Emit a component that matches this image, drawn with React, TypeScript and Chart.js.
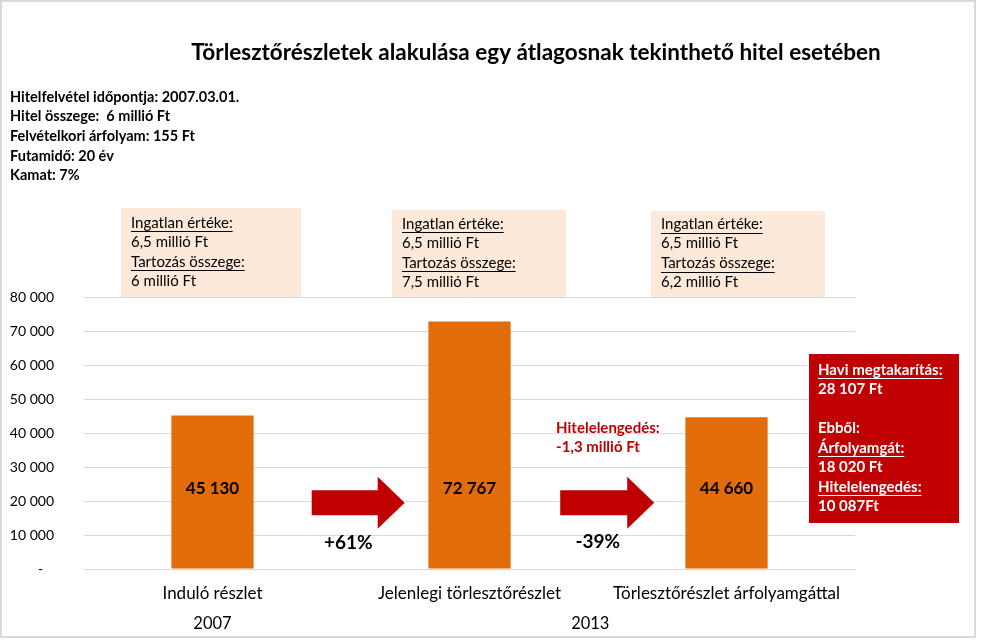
import React, { useEffect, useRef } from "react";
import { Chart, registerables } from "chart.js";

Chart.register(...registerables);

const chartTitle = "Törlesztőrészletek alakulása egy átlagosnak tekinthető hitel esetében";
const categories = ["Induló részlet", "Jelenlegi törlesztőrészlet", "Törlesztőrészlet árfolyamgáttal"];
const values = [45130, 72767, 44660];
const valueLabels = ["45 130", "72 767", "44 660"];
const yearLabels = ["2007", "2013"];
const yearPositions = [0, 1.47];
const yMin = 0;
const yMax = 80000;
const yStep = 10000;
const infoLines = [
  "Hitelfelvétel időpontja: 2007.03.01.",
  "Hitel összege:  6 millió Ft",
  "Felvételkori árfolyam: 155 Ft",
  "Futamidő: 20 év",
  "Kamat: 7%",
];
const boxHeading1 = "Ingatlan értéke:";
const boxHeading2 = "Tartozás összege:";
const propertyValues = ["6,5 millió Ft", "6,5 millió Ft", "6,5 millió Ft"];
const debtValues = ["6 millió Ft", "7,5 millió Ft", "6,2 millió Ft"];
const changeLabels = ["+61%", "-39%"];
const writeOffLines = ["Hitelelengedés:", "-1,3 millió Ft"];
const savingsLines: [string, boolean][] = [
  ["Havi megtakarítás:", true],
  ["28 107 Ft", false],
  ["", false],
  ["Ebből:", false],
  ["Árfolyamgát:", true],
  ["18 020 Ft", false],
  ["Hitelelengedés:", true],
  ["10 087Ft", false],
];

const FONT = "Lato, 'Open Sans', sans-serif";
const ORANGE = "#E36C0A";
const RED = "#C00000";
const PEACH = "#FDE9D9";
const GRID = "#D9D9D9";

function fmt(v: number): string {
  if (v === 0) return "-   ";
  return String(v).replace(/\B(?=(\d{3})+(?!\d))/g, " ");
}

function textLine(ctx: CanvasRenderingContext2D, s: string, x: number, y: number, underline: boolean, color: string) {
  ctx.fillStyle = color;
  ctx.fillText(s, x, y);
  if (underline) {
    const w = ctx.measureText(s).width;
    ctx.strokeStyle = color;
    ctx.lineWidth = 1;
    ctx.beginPath();
    ctx.moveTo(x, Math.round(y + 8) + 0.5);
    ctx.lineTo(x + w, Math.round(y + 8) + 0.5);
    ctx.stroke();
  }
}

function arrow(ctx: CanvasRenderingContext2D, x0: number, xs: number, xt: number, yc: number) {
  ctx.fillStyle = RED;
  ctx.beginPath();
  ctx.moveTo(x0, yc - 12.5);
  ctx.lineTo(xs, yc - 12.5);
  ctx.lineTo(xs, yc - 26);
  ctx.lineTo(xt, yc);
  ctx.lineTo(xs, yc + 26);
  ctx.lineTo(xs, yc + 12.5);
  ctx.lineTo(x0, yc + 12.5);
  ctx.closePath();
  ctx.fill();
}

const decorations = {
  id: "decorations",
  afterDraw(chart: any) {
    const ctx: CanvasRenderingContext2D = chart.ctx;
    const xs = chart.scales.x;
    const ys = chart.scales.y;
    ctx.save();
    ctx.textBaseline = "middle";

    // frame
    ctx.strokeStyle = GRID;
    ctx.lineWidth = 2;
    ctx.strokeRect(1, 1, 974, 636);

    // title
    ctx.fillStyle = "#000";
    ctx.textAlign = "center";
    ctx.font = `bold 22.5px ${FONT}`;
    ctx.fillText(chartTitle, 536, 53);

    // info lines
    ctx.textAlign = "left";
    ctx.font = `bold 14.5px ${FONT}`;
    const infoY = [97, 116, 136, 156, 175];
    infoLines.forEach((l, i) => ctx.fillText(l, 10, infoY[i]));

    // peach boxes
    const boxLeft = [121, 392, 651];
    const boxW = [180, 174, 174];
    const boxTop = [208, 210, 211];
    ctx.font = `15px ${FONT}`;
    for (let i = 0; i < 3; i++) {
      ctx.fillStyle = PEACH;
      ctx.fillRect(boxLeft[i], boxTop[i], boxW[i], 297 - boxTop[i]);
      const tx = boxLeft[i] + 10;
      const off = boxTop[i] - 208;
      textLine(ctx, boxHeading1, tx, 223 + off / 2, true, "#000");
      textLine(ctx, propertyValues[i], tx, 242 + off / 2, false, "#000");
      textLine(ctx, boxHeading2, tx, 262 + off / 2, true, "#000");
      textLine(ctx, debtValues[i], tx, 281 + off / 2, false, "#000");
    }

    // value labels on bars
    ctx.textAlign = "center";
    ctx.font = `bold 17px ${FONT}`;
    ctx.fillStyle = "#000";
    const labelY = ys.getPixelForValue(23600);
    valueLabels.forEach((l, i) => ctx.fillText(l, xs.getPixelForValue(i), labelY));

    // arrows
    const arrowY = ys.getPixelForValue(19500);
    const a1 = xs.getPixelForValue(0.386);
    arrow(ctx, a1, a1 + 66, a1 + 93, arrowY);
    const a2 = xs.getPixelForValue(1.353);
    arrow(ctx, a2, a2 + 67, a2 + 94, arrowY);

    // change labels
    ctx.font = `bold 19px ${FONT}`;
    ctx.fillStyle = "#000";
    ctx.fillText(changeLabels[0], xs.getPixelForValue(0.528), ys.getPixelForValue(7600));
    ctx.fillText(changeLabels[1], xs.getPixelForValue(1.499), ys.getPixelForValue(7900));

    // write-off text
    ctx.textAlign = "left";
    ctx.font = `bold 15px ${FONT}`;
    ctx.fillStyle = RED;
    const wx = xs.getPixelForValue(1.337);
    ctx.fillText(writeOffLines[0], wx, 428);
    ctx.fillText(writeOffLines[1], wx, 447);

    // savings box
    ctx.fillStyle = RED;
    ctx.fillRect(809, 354, 150, 169);
    ctx.font = `bold 15px ${FONT}`;
    const sy = [370, 389, 408, 428, 448, 467, 487, 506];
    savingsLines.forEach(([s, u], i) => {
      if (s) textLine(ctx, s, 818, sy[i], u, "#fff");
    });

    // years
    ctx.textAlign = "center";
    ctx.font = `16.5px ${FONT}`;
    ctx.fillStyle = "#000";
    yearLabels.forEach((y, i) => ctx.fillText(y, xs.getPixelForValue(yearPositions[i]), 624));

    ctx.restore();
  },
};

export default function App() {
  const ref = useRef<HTMLCanvasElement | null>(null);
  useEffect(() => {
    if (!ref.current) return;
    const chart = new Chart(ref.current, {
      type: "bar",
      data: {
        labels: categories,
        datasets: [
          {
            data: values,
            backgroundColor: ORANGE,
            barPercentage: 0.32,
            categoryPercentage: 1,
          },
        ],
      },
      options: {
        animation: false,
        responsive: false,
        maintainAspectRatio: false,
        layout: { padding: { top: 297, left: 0, right: 128, bottom: 0 } },
        plugins: { legend: { display: false }, title: { display: false }, tooltip: { enabled: false } },
        scales: {
          x: {
            grid: { display: false, drawTicks: false },
            border: { display: true, color: GRID },
            ticks: { color: "#000", font: { family: FONT, size: 17 }, padding: 14, maxRotation: 0, autoSkip: false },
            afterFit: (s: any) => {
              s.height = 75;
            },
          },
          y: {
            min: yMin,
            max: yMax,
            grid: { color: GRID, drawTicks: false },
            border: { display: false },
            ticks: {
              stepSize: yStep,
              color: "#000",
              font: { family: FONT, size: 14 },
              padding: 30,
              callback: (v: any) => fmt(Number(v)),
            },
            afterFit: (s: any) => {
              s.width = 84;
            },
          },
        },
      },
      plugins: [decorations],
    });
    return () => chart.destroy();
  }, []);
  return (
    <div style={{ position: "fixed", left: 0, top: 0, width: 983, height: 644, background: "#fff" }}>
      <canvas ref={ref} width={983} height={644} style={{ width: 983, height: 644, display: "block" }} />
    </div>
  );
}
